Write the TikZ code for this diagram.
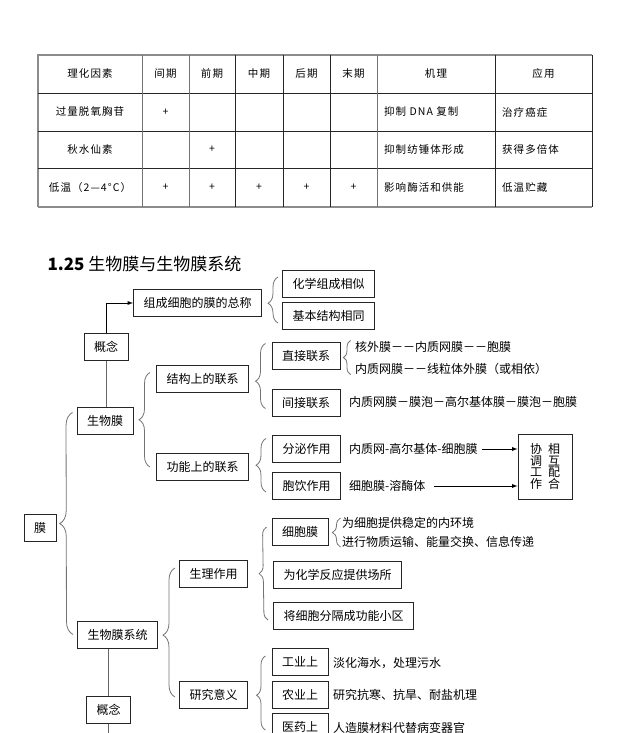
\documentclass[tikz,border=0pt]{standalone}
\usepackage{fontspec}
\setmainfont{Noto Sans CJK SC}
\newfontfamily\tabfont[LetterSpace=10]{Noto Sans CJK SC}
\usetikzlibrary{decorations.pathreplacing}

\begin{document}
\begin{tikzpicture}
[x=1pt,y=-1pt,
box/.style={draw=black!85,line width=1pt,inner xsep=10pt,minimum height=27pt,font=\fontsize{12}{14}\selectfont},
txt/.style={anchor=west,inner sep=1pt,font=\fontsize{12}{14}\selectfont},
tab/.style={font=\tabfont\fontsize{10.5}{13}\selectfont},
tabl/.style={tab,anchor=west,inner sep=1pt},
brc/.style={draw=black!55,line width=0.8pt,decorate,decoration={brace,amplitude=10pt}},
lnk/.style={draw=black!60,line width=0.9pt}]
\useasboundingbox (0,0) rectangle (625,733);
\draw[black!45,line width=1.3pt] (38,207)--(38,55)--(592,55); \draw[black!85,line width=1pt] (592,55)--(592,207); \draw[black!45,line width=1.3pt] (38,207)--(592,207);
\draw[black!85,line width=0.8pt] (38,93)--(592,93); \draw[black!85,line width=0.8pt] (38,131)--(592,131); \draw[black!85,line width=0.8pt] (38,168)--(592,168);
\draw[black!55,line width=1pt] (142,55)--(142,207); \draw[black!55,line width=1pt] (189,55)--(189,207); \draw[black!85,line width=0.8pt] (235,55)--(235,207); \draw[black!85,line width=0.8pt] (283,55)--(283,207);
\draw[black!85,line width=0.8pt] (330,55)--(330,207); \draw[black!55,line width=1pt] (377,55)--(377,207); \draw[black!85,line width=0.8pt] (495,55)--(495,207);
\node[tab] (h1) at (90,74) {理化因素}; \node[tab] (h2) at (165.5,74) {间期}; \node[tab] (h3) at (212,74) {前期}; \node[tab] (h4) at (259,74) {中期};
\node[tab] (h5) at (306.5,74) {后期}; \node[tab] (h6) at (353.5,74) {末期}; \node[tab] (h7) at (436,74) {机理}; \node[tab] (h8) at (543.5,74) {应用};
\node[tab] (a1) at (90,112) {过量脱氧胸苷}; \node[tab] (a2) at (165.5,112) {+}; \node[tabl] (a7) at (383,112) {抑制 DNA 复制}; \node[tabl] (a8) at (501,112) {治疗癌症};
\node[tab] (b1) at (90,149.5) {秋水仙素}; \node[tab] (b3) at (212,149.5) {+}; \node[tabl] (b7) at (383,149.5) {抑制纺锤体形成}; \node[tabl] (b8) at (501,149.5) {获得多倍体};
\node[tab] (c1) at (90,187.5) {低温（2—4°C）}; \node[tab] (c2) at (165.5,187.5) {+}; \node[tab] (c3) at (212,187.5) {+}; \node[tab] (c4) at (259,187.5) {+};
\node[tab] (c5) at (306.5,187.5) {+}; \node[tab] (c6) at (353.5,187.5) {+}; \node[tabl] (c7) at (383,187.5) {影响酶活和供能}; \node[tabl] (c8) at (501,187.5) {低温贮藏};
\node[anchor=west,font=\fontsize{17}{20}\selectfont] (title) at (44,264) {\textbf{1.25} 生物膜与生物膜系统};
\node[box] (gc) at (197.5,303) {组成细胞的膜的总称};
\node[box] (hx) at (328.5,284) {化学组成相似}; \node[box] (jb) at (328.5,316) {基本结构相同};
\node[box] (gn1) at (106,346.5) {概念}; \node[box] (swm) at (105,420.5) {生物膜};
\node[box] (jg) at (202.5,378.5) {结构上的联系}; \node[box] (gnl) at (202.5,467) {功能上的联系};
\node[box] (zj) at (306,355.5) {直接联系}; \node[box] (jj) at (306,402.5) {间接联系};
\node[box] (fm) at (306.5,448.5) {分泌作用}; \node[box] (by) at (306.5,486) {胞饮作用};
\node[box,inner xsep=0pt,minimum width=54pt,minimum height=65pt,align=center,font=\fontsize{12}{11.7}\selectfont] (xt) at (545,466.5) {协\hspace{6pt}相\\调\hspace{6pt}互\\工\hspace{6pt}配\\作\hspace{6pt}合};
\node[box] (m) at (40,528) {膜};
\node[box] (swx) at (117.5,634.5) {生物膜系统}; \node[box] (gn2) at (108.5,710) {概念};
\node[box] (sl) at (213.5,574) {生理作用}; \node[box] (yj) at (213.5,695) {研究意义};
\node[box] (xbm) at (300,532) {细胞膜}; \node[box] (wh) at (337.5,574.5) {为化学反应提供场所}; \node[box] (jx) at (343.5,616) {将细胞分隔成功能小区};
\node[box] (gy) at (300,662) {工业上}; \node[box] (ny) at (300,694.5) {农业上}; \node[box] (yy) at (300,727) {医药上};
\node[txt] (t1) at (354,347) {核外膜－－内质网膜－－胞膜}; \node[txt] (t2) at (354,369) {内质网膜－－线粒体外膜（或相依）};
\node[txt] (t3) at (348,402) {内质网膜－膜泡－高尔基体膜－膜泡－胞膜};
\node[txt] (t4) at (348,449) {内质网-高尔基体-细胞膜}; \node[txt] (t5) at (348,486) {细胞膜-溶酶体};
\node[txt] (t6) at (341,523) {为细胞提供稳定的内环境}; \node[txt] (t7) at (341,542) {进行物质运输、能量交换、信息传递};
\node[txt] (t8) at (332,663) {淡化海水，处理污水}; \node[txt] (t9) at (332,695) {研究抗寒、抗旱、耐盐机理}; \node[txt] (t10) at (332,728) {人造膜材料代替病变器官};
\coordinate (bot) at (0,740);
\draw[black,line width=0.9pt,-latex] (gn1.north) |- (gc.west);
\draw[lnk] (gn1.south) -- (gn1.south |- swm.north);
\draw[lnk] (gn2.north) -- (gn2.north |- swx.south); \draw[lnk] (gn2.south) -- (gn2.south |- bot);
\draw[black,line width=0.9pt,-latex] ([xshift=3pt]t4.east) -- (t4.east -| xt.west);
\draw[black,line width=0.9pt,-latex] ([xshift=7pt]t5.east) -- (t5.east -| xt.west);
\draw[brc,decoration={amplitude=13pt}] ([shift={(-4,0)}]swx.west) -- ([shift={(-4,6)}]swm.north west);
\draw[brc,decoration={amplitude=11pt}] ([shift={(-6,0)}]gnl.west) -- ([shift={(-6,-6)}]jg.west);
\draw[brc,decoration={aspect=0.42}] ([shift={(-6,-8)}]jj.south west) -- ([shift={(-6,2)}]zj.north west);
\draw[brc] ([shift={(-6,-8)}]by.south west) -- ([shift={(-6,4)}]fm.north west);
\draw[brc,decoration={aspect=0.43}] ([shift={(-4,-7)}]jb.south west) -- ([shift={(-4,7)}]hx.north west);
\draw[brc,decoration={amplitude=7pt}] ([shift={(10,5)}]zj.south east) -- ([shift={(10,-1)}]zj.north east);
\draw[brc,decoration={amplitude=12pt,aspect=0.48}] ([shift={(-4,2)}]yj.west) -- ([shift={(-4,-6)}]sl.west);
\draw[brc,decoration={amplitude=8pt}] ([shift={(-5,-10)}]jx.south west) -- ([shift={(-5,9)}]xbm.north west);
\draw[brc,decoration={amplitude=9pt,aspect=0.47}] ([shift={(-6,-11)}]yy.south west) -- ([shift={(-6,8)}]gy.north west);
\draw[brc,decoration={amplitude=8pt}] ([shift={(12,1)}]xbm.south east) -- ([shift={(12,0)}]xbm.north east);
\end{tikzpicture}
\end{document}
